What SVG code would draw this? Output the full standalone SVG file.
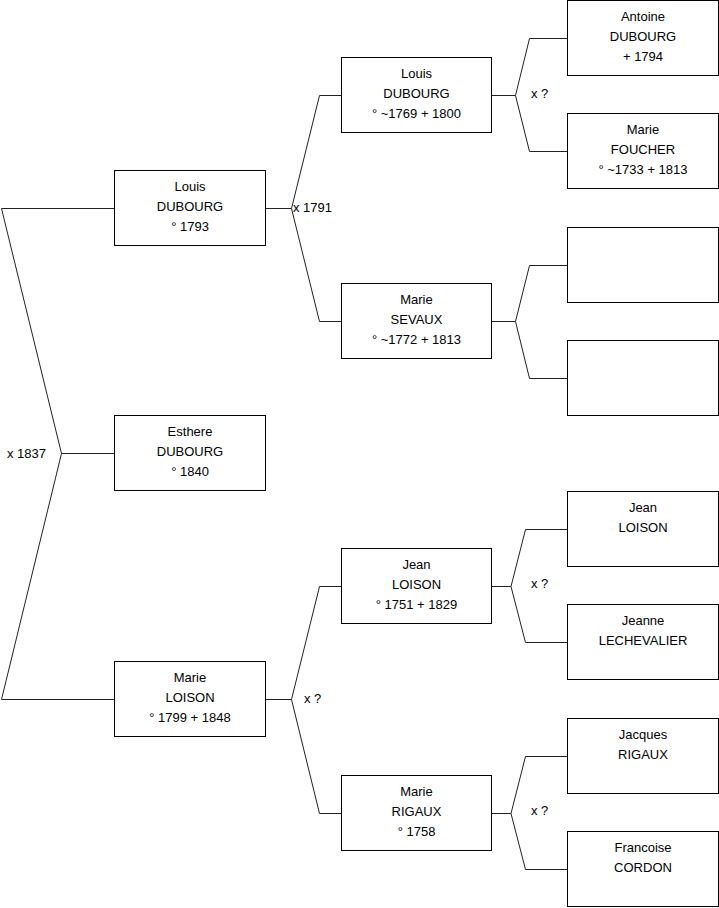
<svg xmlns="http://www.w3.org/2000/svg" width="719" height="908" viewBox="0 0 719 908">
<style>
.box{fill:#fff;stroke:#000;stroke-width:1}
.c{fill:none;stroke:#222;stroke-width:1}
text{font-family:"Liberation Sans",Arial,sans-serif;font-size:13px;fill:#000}
.n text{text-anchor:middle}
</style>
<rect x="0" y="0" width="719" height="908" fill="#fff"/>
<g id="connectors">
<path class="c" d="M1.5,208.5H114.5M1.5,208.5L61.5,453.5L1.5,699.5H114.5M61.5,453.5H114.5"/>
<path class="c" d="M265.5,208.5H291.5M341.5,95.5H319.5L291.5,208.5L319.5,321.5H341.5"/>
<path class="c" d="M265.5,699.5H291.5M341.5,586.5H319.5L291.5,699.5L319.5,813.5H341.5"/>
<path class="c" d="M491.5,95.5H515.5M567.5,38.5H529.5L515.5,95.5L529.5,151.5H567.5"/>
<path class="c" d="M491.5,321.5H515.5M567.5,265.5H529.5L515.5,321.5L529.5,378.5H567.5"/>
<path class="c" d="M491.5,586.5H511M567.5,529.5H525.5L511,586.5L525.5,642.5H567.5"/>
<path class="c" d="M491.5,813.5H511M567.5,756.5H525.5L511,813.5L525.5,869.5H567.5"/>
<text x="293" y="211.5">x 1791</text>
<text x="531" y="97.5">x ?</text>
<text x="7" y="457.5">x 1837</text>
<text x="304" y="702.5">x ?</text>
<text x="531" y="588">x ?</text>
<text x="531" y="815">x ?</text>
</g>
<g id="louis-dubourg-1793" class="n"><rect class="box" x="114.5" y="170.5" width="151" height="75"/><text x="190" y="190.5">Louis</text><text x="190" y="210.5">DUBOURG</text><text x="190" y="230.5">° 1793</text></g>
<g id="esthere-dubourg" class="n"><rect class="box" x="114.5" y="415.5" width="151" height="75"/><text x="190" y="435.5">Esthere</text><text x="190" y="455.5">DUBOURG</text><text x="190" y="475.5">° 1840</text></g>
<g id="marie-loison" class="n"><rect class="box" x="114.5" y="661.5" width="151" height="75"/><text x="190" y="681.5">Marie</text><text x="190" y="701.5">LOISON</text><text x="190" y="721.5">° 1799 + 1848</text></g>
<g id="louis-dubourg-1769" class="n"><rect class="box" x="341.5" y="57.5" width="150" height="75"/><text x="416.5" y="77.5">Louis</text><text x="416.5" y="97.5">DUBOURG</text><text x="416.5" y="117.5">° ~1769 + 1800</text></g>
<g id="marie-sevaux" class="n"><rect class="box" x="341.5" y="283.5" width="150" height="75"/><text x="416.5" y="303.5">Marie</text><text x="416.5" y="323.5">SEVAUX</text><text x="416.5" y="343.5">° ~1772 + 1813</text></g>
<g id="jean-loison-1751" class="n"><rect class="box" x="341.5" y="548.5" width="150" height="75"/><text x="416.5" y="568.5">Jean</text><text x="416.5" y="588.5">LOISON</text><text x="416.5" y="608.5">° 1751 + 1829</text></g>
<g id="marie-rigaux" class="n"><rect class="box" x="341.5" y="775.5" width="150" height="75"/><text x="416.5" y="795.5">Marie</text><text x="416.5" y="815.5">RIGAUX</text><text x="416.5" y="835.5">° 1758</text></g>
<g id="antoine-dubourg" class="n"><rect class="box" x="567.5" y="0.5" width="151" height="75"/><text x="643" y="20.5">Antoine</text><text x="643" y="40.5">DUBOURG</text><text x="643" y="60.5">+ 1794</text></g>
<g id="marie-foucher" class="n"><rect class="box" x="567.5" y="113.5" width="151" height="75"/><text x="643" y="133.5">Marie</text><text x="643" y="153.5">FOUCHER</text><text x="643" y="173.5">° ~1733 + 1813</text></g>
<g id="empty-1" class="n"><rect class="box" x="567.5" y="227.5" width="151" height="75"/></g>
<g id="empty-2" class="n"><rect class="box" x="567.5" y="340.5" width="151" height="75"/></g>
<g id="jean-loison" class="n"><rect class="box" x="567.5" y="491.5" width="151" height="75"/><text x="643" y="511.5">Jean</text><text x="643" y="531.5">LOISON</text></g>
<g id="jeanne-lechevalier" class="n"><rect class="box" x="567.5" y="604.5" width="151" height="75"/><text x="643" y="624.5">Jeanne</text><text x="643" y="644.5">LECHEVALIER</text></g>
<g id="jacques-rigaux" class="n"><rect class="box" x="567.5" y="718.5" width="151" height="75"/><text x="643" y="738.5">Jacques</text><text x="643" y="758.5">RIGAUX</text></g>
<g id="francoise-cordon" class="n"><rect class="box" x="567.5" y="831.5" width="151" height="75"/><text x="643" y="851.5">Francoise</text><text x="643" y="871.5">CORDON</text></g>
</svg>
